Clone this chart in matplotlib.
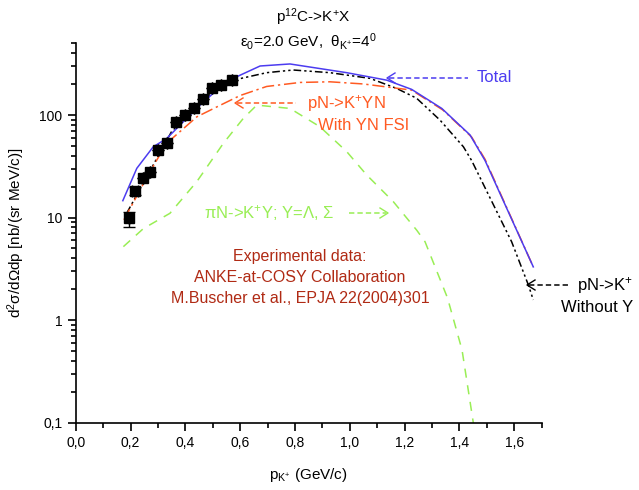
import matplotlib
matplotlib.use("Agg")
import matplotlib.pyplot as plt
from matplotlib.lines import Line2D
from matplotlib.ticker import FixedLocator, FixedFormatter, LogLocator, NullFormatter, MultipleLocator

plt.rcParams['font.family'] = ['Liberation Sans', 'DejaVu Sans']
plt.rcParams['mathtext.default'] = 'regular'

# ---- data ----
exp_p = [0.196, 0.216, 0.245, 0.271, 0.301, 0.332, 0.366, 0.399, 0.432, 0.466, 0.499, 0.529, 0.569]
exp_y = [9.8, 18.2, 24.4, 28.0, 45.6, 53.0, 86.0, 100.0, 116.0, 143.0, 185.0, 196.0, 219.0]
exp_yerr_lo = [1.8, 1.5, 0, 0, 0, 0, 0, 0, 0, 0, 0, 0, 0]
exp_yerr_hi = [1.6, 1.5, 0, 0, 0, 0, 0, 0, 0, 0, 0, 0, 0]
exp_xerr = [0.0, 0.012, 0, 0, 0, 0, 0, 0, 0, 0, 0, 0, 0]

total_p = [0.172, 0.223, 0.283, 0.332, 0.393, 0.454, 0.515, 0.575, 0.673, 0.782, 0.989, 1.135, 1.226, 1.336, 1.439, 1.494, 1.670]
total_y = [14.6, 30.2, 49.0, 59.0, 86.0, 125.0, 175.0, 228.0, 301.0, 315.0, 259.0, 219.0, 178.0, 116.0, 64.0, 36.0, 3.3]

yn_p = [0.176, 0.271, 0.332, 0.442, 0.515, 0.600, 0.697, 0.819, 0.928, 1.050, 1.226, 1.340, 1.445, 1.494, 1.670]
yn_y = [9.5, 28.0, 53.0, 96.0, 120.0, 155.0, 190.0, 208.0, 211.0, 201.0, 175.0, 112.0, 61.0, 37.0, 3.3]

noy_p = [0.186, 0.350, 0.478, 0.575, 0.697, 0.794, 0.928, 1.074, 1.171, 1.244, 1.330, 1.415, 1.445, 1.591, 1.652, 1.670]
noy_y = [11.0, 69.0, 151.0, 219.0, 259.0, 275.0, 259.0, 228.0, 182.0, 146.0, 89.0, 49.0, 36.0, 5.8, 2.2, 1.57]

pin_p = [0.174, 0.247, 0.344, 0.442, 0.539, 0.612, 0.661, 0.782, 0.891, 0.989, 1.062, 1.159, 1.245, 1.275, 1.357, 1.410, 1.451, 1.470]
pin_y = [5.2, 7.8, 11.0, 22.4, 53.0, 93.0, 125.0, 116.0, 77.0, 44.0, 26.0, 14.3, 7.5, 5.8, 1.64, 0.51, 0.10, 0.05]

xticks = [0.0, 0.2, 0.4, 0.6, 0.8, 1.0, 1.2, 1.4, 1.6]
xticklabels = ['0,0', '0,2', '0,4', '0,6', '0,8', '1,0', '1,2', '1,4', '1,6']
yticks = [0.1, 1, 10, 100]
yticklabels = ['0,1', '1', '10', '100']

# ---- colours ----
C_BLUE = '#4c3cf0'
C_ORANGE = '#ff5a22'
C_GREEN = '#99ee55'
C_RED = '#b02a14'

W, H = 639, 490
fig = plt.figure(figsize=(W / 100, H / 100), dpi=100)
ax = fig.add_axes([75.7 / W, 1 - 422.5 / H, (541.5 - 75.7) / W, (422.5 - 43.4) / H])

ax.plot(pin_p, pin_y, color=C_GREEN, lw=1.1, ls=(0, (6, 5)))
ax.plot(noy_p, noy_y, color='black', lw=1.1, ls=(0, (5, 2, 1.5, 2, 1.5, 2)))
ax.plot(yn_p, yn_y, color=C_ORANGE, lw=1.1, ls=(0, (8, 2.5, 1.5, 2.5)))
ax.plot(total_p, total_y, color=C_BLUE, lw=1.1)
ax.errorbar(exp_p, exp_y, yerr=[exp_yerr_lo, exp_yerr_hi], xerr=exp_xerr, fmt='s',
            color='black', ms=6.5, capsize=4, elinewidth=1, capthick=1, zorder=5)

ax.set_yscale('log')
ax.set_xlim(0, 1.7)
ax.set_ylim(0.1, 500)
ax.xaxis.set_major_locator(FixedLocator(xticks))
ax.xaxis.set_major_formatter(FixedFormatter(xticklabels))
ax.xaxis.set_minor_locator(MultipleLocator(0.1))
ax.yaxis.set_major_locator(FixedLocator(yticks))
ax.yaxis.set_major_formatter(FixedFormatter(yticklabels))
ax.yaxis.set_minor_locator(LogLocator(base=10, subs=range(2, 10)))
ax.yaxis.set_minor_formatter(NullFormatter())
for s in ['top', 'right']:
    ax.spines[s].set_visible(False)
for s in ['left', 'bottom']:
    ax.spines[s].set_linewidth(1.2)
ax.tick_params(which='major', direction='out', length=6, width=1.2, labelsize=10)
ax.tick_params(which='minor', direction='out', length=3.5, width=1.2)
ax.set_xlabel('p$_{K^{+}}$ (GeV/c)', fontsize=11, labelpad=12)
ax.set_ylabel('d$^2$σ/dΩdp [nb/(sr MeV/c)]', fontsize=11, labelpad=9)


def ftxt(px, py, s, **kw):
    fig.text(px / W, 1 - py / H, s, **kw)


def arrow(x1, x2, py, color, left=True):
    fig.add_artist(Line2D([(x1 + 2) / W, (x2 - 2) / W], [1 - py / H] * 2, color=color, lw=1.1,
                          ls=(0, (3.5, 2))))
    if left:
        xs = [(x1 + 8) / W, x1 / W, (x1 + 8) / W]
    else:
        xs = [(x2 - 8) / W, x2 / W, (x2 - 8) / W]
    fig.add_artist(Line2D(xs, [1 - (py - 5) / H, 1 - py / H, 1 - (py + 5) / H], color=color, lw=1.0))


ftxt(313, 17, 'p$^{12}$C->K$^{+}$X', ha='center', va='center', fontsize=11)
ftxt(308, 41, 'ε$_0$=2.0 GeV,  θ$_{K^{+}}$=4$^0$', ha='center', va='center', fontsize=11)

arrow(387, 470, 78, C_BLUE)
ftxt(477, 78, 'Total', color=C_BLUE, ha='left', va='center', fontsize=12)

arrow(235, 298, 103, C_ORANGE)
ftxt(307, 103, 'pN->K$^{+}$YN', color=C_ORANGE, ha='left', va='center', fontsize=12)
ftxt(364, 126, 'With YN FSI', color=C_ORANGE, ha='center', va='center', fontsize=12)

ftxt(204, 213, 'πN->K$^{+}$Y; Y=Λ, Σ', color=C_GREEN, ha='left', va='center', fontsize=12)
arrow(347, 388, 213, C_GREEN, left=False)

ftxt(300, 256, 'Experimental data:', color=C_RED, ha='center', va='center', fontsize=11.5)
ftxt(300, 277, 'ANKE-at-COSY Collaboration', color=C_RED, ha='center', va='center', fontsize=11.5)
ftxt(300, 298, 'M.Buscher et al., EPJA 22(2004)301', color=C_RED, ha='center', va='center', fontsize=11.5)

arrow(527, 572, 285, 'black')
ftxt(577, 285, 'pN->K$^{+}$', ha='left', va='center', fontsize=12)
ftxt(597, 307, 'Without Y', ha='center', va='center', fontsize=12)

fig.savefig('out.png', dpi=100)
